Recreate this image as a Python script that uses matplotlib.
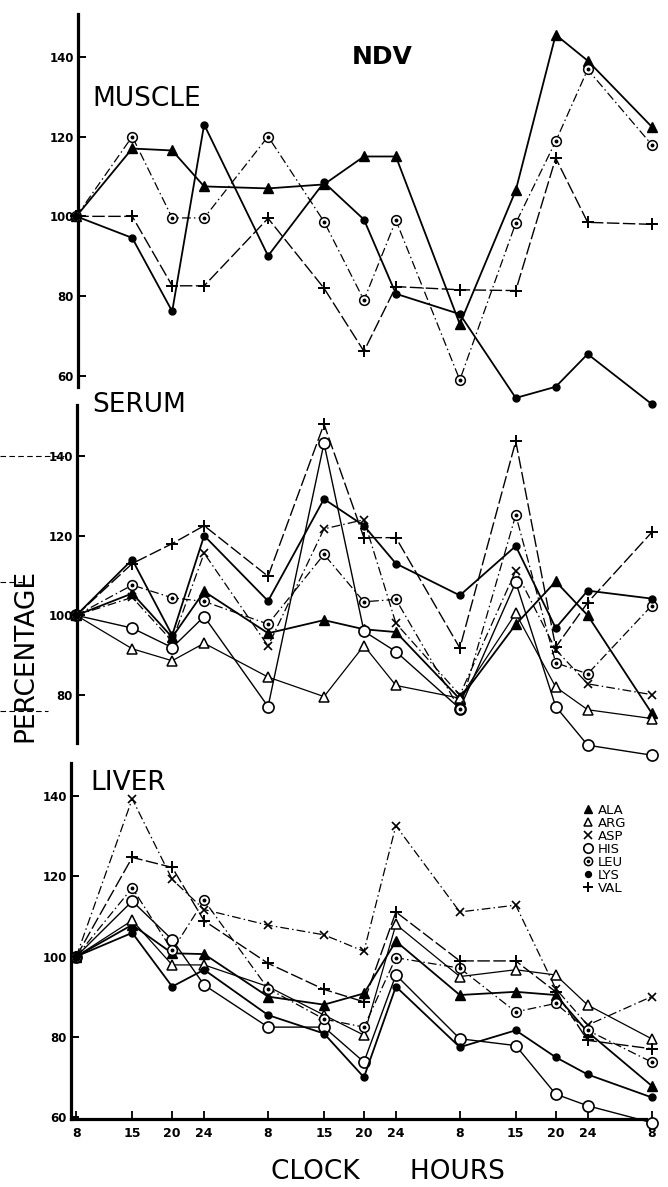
import matplotlib
matplotlib.use("Agg")
import matplotlib.pyplot as plt
from matplotlib.lines import Line2D
from matplotlib.legend_handler import HandlerTuple

plt.rcParams['font.family'] = ['DejaVu Sans']

# ---------------- data ----------------
hours = [8, 15, 20, 24, 32, 39, 44, 48, 56, 63, 68, 72, 80]
hour_labels = ['8', '15', '20', '24', '8', '15', '20', '24', '8', '15', '20', '24', '8']
series_names = ['ALA', 'ARG', 'ASP', 'HIS', 'LEU', 'LYS', 'VAL']

muscle_ala = [100, 117, 116.5, 107.5, 107, 108, 115, 115, 73, 106.5, 145.5, 139, 122.5]
muscle_leu = [100, 120, 99.6, 99.6, 120, 98.7, 79, 99, 59, 98.3, 118.8, 136.8, 118]
muscle_lys = [100, 94.6, 76.2, 123, 90.1, 108.5, 99.2, 80.6, 75.5, 54.5, 57.3, 65.5, 53]
muscle_val = [100, 100, 82.6, 82.6, 99.5, 82, 66.2, 82.4, 81.6, 81.4, 114.6, 98.5, 98]

serum_ala = [100, 105.5, 94.5, 106, 95.5, 98.8, 96.5, 95.8, 79, 97.7, 108.5, 100, 75.5]
serum_arg = [100, 91.6, 88.6, 93, 84.5, 79.6, 92.4, 82.4, 79.2, 100.5, 82, 76.3, 74.1]
serum_asp = [100, 104.5, 93.5, 115.6, 92.3, 121.7, 124, 98, 80, 111.2, 91.4, 82.8, 80.1]
serum_his = [100, 96.8, 91.9, 99.7, 77.1, 143.2, 96, 90.9, 76.6, 108.3, 77.1, 67.4, 64.9]
serum_leu = [100, 107.6, 104.4, 103.5, 97.8, 115.3, 103.4, 104, 76.4, 125.2, 88.1, 85.3, 102.4]
serum_lys = [100, 114, 95, 120, 103.6, 129.2, 122.5, 113, 105, 117.4, 96.8, 106.2, 104.2]
serum_val = [100, 113, 118, 122.5, 109.8, 148, 119.5, 119.5, 91.8, 143.7, 92, 103.2, 120.8]

liver_ala = [100, 107.9, 100.8, 100.6, 90, 88, 90.8, 103.8, 90.4, 91.2, 90.4, 81.2, 67.8]
liver_arg = [100, 109, 97.9, 97.9, 92.5, 85.4, 80.4, 108, 95, 96.7, 95.4, 87.9, 79.5]
liver_asp = [100, 139.3, 119.2, 111.7, 107.8, 105.4, 101.3, 132.6, 111.1, 112.8, 92, 82.9, 90]
liver_his = [100, 113.8, 104.2, 92.9, 82.4, 82.4, 73.7, 95.4, 79.5, 77.8, 65.7, 62.8, 58.6]
liver_leu = [100, 117.1, 101.5, 114, 92, 84.4, 82.4, 99.7, 97.1, 86.2, 88.3, 81.6, 73.7]
liver_lys = [100, 105.9, 92.5, 96.7, 85.4, 80.8, 69.9, 92.5, 77.4, 81.6, 74.9, 70.6, 64.9]
liver_val = [100, 124.7, 122.2, 108.9, 98.3, 91.8, 88.7, 111.1, 98.9, 98.9, 91.2, 79.1, 77]

muscle = {'ALA': muscle_ala, 'LEU': muscle_leu, 'LYS': muscle_lys, 'VAL': muscle_val}
serum = {'ALA': serum_ala, 'ARG': serum_arg, 'ASP': serum_asp, 'HIS': serum_his,
         'LEU': serum_leu, 'LYS': serum_lys, 'VAL': serum_val}
liver = {'ALA': liver_ala, 'ARG': liver_arg, 'ASP': liver_asp, 'HIS': liver_his,
         'LEU': liver_leu, 'LYS': liver_lys, 'VAL': liver_val}

# ---------------- styles ----------------
DASHDOT = (0, (7, 2.5, 1.2, 2.5))
LONGDASH = (0, (9, 2.5))
styles = {
    'ALA': dict(marker='^', ms=7, mfc='black', mec='black', lw=1.3, ls='-'),
    'ARG': dict(marker='^', ms=7, mfc='white', mec='black', mew=1.1, lw=0.9, ls='-'),
    'ASP': dict(marker='x', ms=6, mec='black', mew=1.2, lw=0.9, ls=DASHDOT),
    'HIS': dict(marker='o', ms=8, mfc='white', mec='black', mew=1.2, lw=1.0, ls='-'),
    'LEU': dict(marker='o', ms=7, mfc='white', mec='black', mew=1.1, lw=0.9, ls=DASHDOT),
    'LYS': dict(marker='o', ms=5, mfc='black', mec='black', lw=1.3, ls='-'),
    'VAL': dict(marker='+', ms=9, mec='black', mew=1.4, lw=1.0, ls=LONGDASH),
}

W, H = 668, 1187
fig = plt.figure(figsize=(W / 100, H / 100), dpi=100)


def px_hour(px):
    return 8 + (px - 76.3) / 7.99


def panel(left, right, top, bottom, v_hi, p_hi, v_lo, p_lo):
    ax = fig.add_axes([left / W, 1 - bottom / H, (right - left) / W, (bottom - top) / H])
    s = (p_lo - p_hi) / (v_hi - v_lo)
    ax.set_ylim(v_lo - (bottom - p_lo) / s, v_hi + (p_hi - top) / s)
    ax.set_xlim(px_hour(left), px_hour(right))
    for sp in ('top', 'right'):
        ax.spines[sp].set_visible(False)
    ax.spines['left'].set_linewidth(2.3)
    ax.patch.set_alpha(0)
    ax.tick_params(axis='y', direction='in', length=6, width=1.4, pad=3,
                   labelsize=8.5)
    return ax


def draw(ax, data):
    for name, vals in data.items():
        st = styles[name]
        ax.plot(hours, vals, color='black', clip_on=False, zorder=3, **st)
        if name == 'LEU':
            ax.plot(hours, vals, ls='none', marker='o', ms=1.8, color='black',
                    clip_on=False, zorder=4)


ax_m = panel(78, 662, 14, 387, 140, 56.7, 60, 376)
ax_s = panel(77, 662, 405, 743, 140, 456, 80, 695)
ax_l = panel(71, 662, 763, 1119, 140, 796, 60, 1117)

for ax in (ax_m, ax_s):
    ax.spines['bottom'].set_visible(False)
    ax.set_xticks([])

ax_m.set_yticks([60, 80, 100, 120, 140])
ax_s.set_yticks([80, 100, 120, 140])
ax_l.set_yticks([60, 80, 100, 120, 140])
for ax in (ax_m, ax_s, ax_l):
    ax.set_yticklabels([str(v) for v in ax.get_yticks()], fontweight='bold', fontsize=8.5)

ax_l.spines['bottom'].set_linewidth(2.3)
ax_l.spines['bottom'].set_bounds(px_hour(71), px_hour(646))
ax_l.set_xticks(hours)
ax_l.set_xticklabels(hour_labels, fontweight='bold', fontsize=9)
ax_l.tick_params(axis='x', direction='in', length=6, width=1.3, pad=6)

draw(ax_m, muscle)
draw(ax_s, serum)
draw(ax_l, liver)

# legend (liver panel)
handles = []
for name in series_names:
    st = dict(styles[name])
    st.pop('ls'); st.pop('lw')
    st['ms'] = st['ms'] * 0.85
    h = Line2D([], [], ls='none', color='black', **st)
    if name == 'LEU':
        h = (h, Line2D([], [], ls='none', marker='o', ms=1.6, color='black'))
    handles.append(h)
leg = ax_l.legend(handles, series_names, loc='upper left',
                  bbox_to_anchor=(583 / W, 1 - 804 / H), bbox_transform=fig.transFigure,
                  frameon=False, handlelength=0.7, handletextpad=0.45,
                  labelspacing=0.0, fontsize=9.5, borderpad=0, borderaxespad=0,
                  handler_map={tuple: HandlerTuple(ndivide=1)})

# text labels
fig.text(382 / W, 1 - 57 / H, 'NDV', fontsize=18, fontweight='bold', ha='center', va='center')
fig.text(92 / W, 1 - 99 / H, 'MUSCLE', fontsize=19, ha='left', va='center')
fig.text(92 / W, 1 - 405 / H, 'SERUM', fontsize=19, ha='left', va='center')
fig.text(90 / W, 1 - 783 / H, 'LIVER', fontsize=19, ha='left', va='center')
fig.text(25 / W, 1 - 655 / H, 'PERCENTAGE', fontsize=19, rotation=90, ha='center', va='center')
fig.text(388 / W, 1 - 1172 / H, 'CLOCK      HOURS', fontsize=19, ha='center', va='center')

# faint scan rule marks on the left of the serum panel
for y, x0, x1 in [(456, 0, 64), (711, 0, 48), (582, 0, 22)]:
    fig.add_artist(Line2D([x0 / W, x1 / W], [1 - y / H] * 2, transform=fig.transFigure,
                          color='black', lw=0.8, ls=(0, (5, 3))))

fig.savefig('out.png', dpi=100)
